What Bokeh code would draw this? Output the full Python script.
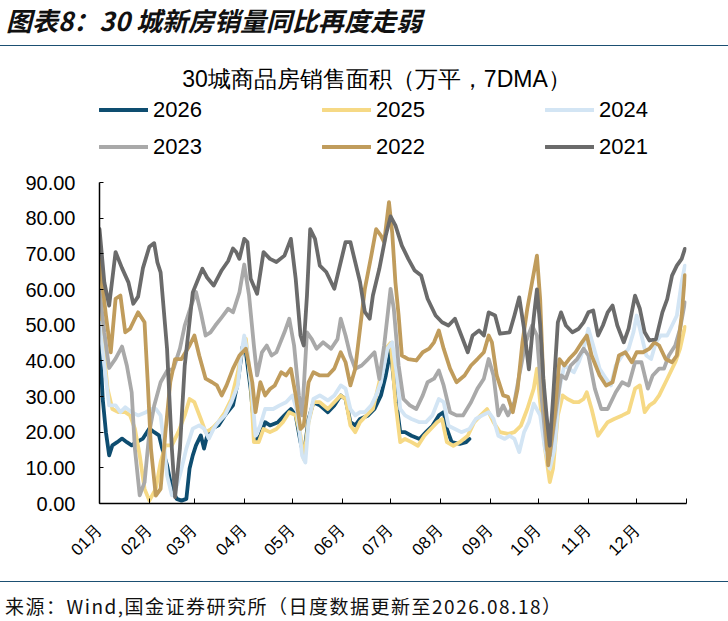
import math
from bokeh.plotting import figure
from bokeh.models import (Range1d, FixedTicker, NumeralTickFormatter, Label,
                          Legend, LegendItem, Div)
from bokeh.layouts import column
from bokeh.embed import file_html
from bokeh.resources import INLINE

# day of year (0 = 1 Jan) and 7DMA sales area (万平)
days_2021 = [0, 3, 6, 10, 14, 18, 21, 24, 27, 31,
             34, 36, 38, 42, 45, 47, 50, 53, 58, 61,
             64, 67, 71, 76, 80, 83, 85, 87, 90, 92,
             94, 98, 102, 106, 110, 115, 119, 122, 125, 127,
             129, 131, 134, 137, 141, 146, 150, 153, 156, 159,
             162, 165, 168, 170, 174, 178, 181, 184, 188, 192,
             196, 200, 204, 209, 213, 217, 221, 225, 229, 232,
             236, 239, 242, 246, 249, 255, 258, 261, 264, 267,
             270, 272, 274, 276, 278, 280, 282, 285, 287, 290,
             294, 298, 301, 304, 307, 310, 313, 316, 319, 322,
             326, 329, 333, 336, 339, 342, 346, 350, 353, 356,
             359, 362, 364]
vals_2021 = [77, 62, 55.5, 70.5, 66, 62, 56, 58, 66, 72,
             73, 67.6, 64.8, 43.4, 15.4, 1.8, 15.4, 38.7, 59.2, 62.5,
             65.8, 63.3, 61.1, 65.4, 68, 71.5, 70.5, 68.6, 74.2, 73.3,
             63, 58.8, 70.5, 68.6, 67.7, 69.5, 74.2, 63, 47.1, 44.3,
             58.3, 76.9, 74.2, 66.7, 64.9, 60.2, 67.7, 73.3, 73.3, 67.7,
             62.1, 53.7, 51.8, 58.3, 65.8, 75.1, 80.5, 78, 72.3, 68.6,
             65.3, 63.9, 57.4, 52.7, 50.8, 49.9, 51.8, 47.1, 42.4, 47.1,
             48.5, 47.1, 53.6, 52.7, 47.6, 48, 52.7, 57.8, 49, 37.6,
             52, 60, 50, 35, 24.6, 16.2, 29.3, 50.8, 53.6, 49.9,
             48, 49, 50.8, 53.6, 54.1, 47.1, 49.9, 53.6, 55.5, 49.9,
             45.2, 49, 58.3, 54.6, 48, 45.7, 46.1, 53.6, 57.3, 63.9,
             66.7, 68.6, 71.4]

days_2022 = [0, 4, 7, 10, 13, 16, 19, 22, 24, 28,
             30, 32, 35, 38, 41, 44, 47, 51, 56, 59,
             62, 66, 70, 73, 76, 79, 83, 87, 91, 95,
             97, 100, 103, 106, 109, 113, 116, 119, 122, 125,
             127, 130, 133, 137, 142, 146, 150, 153, 156, 159,
             162, 165, 169, 172, 175, 177, 180, 182, 184, 186,
             188, 192, 197, 201, 205, 208, 211, 214, 218, 222,
             227, 231, 235, 239, 242, 244, 247, 251, 254, 257,
             260, 263, 266, 269, 272, 274, 276, 279, 283, 286,
             289, 292, 296, 300, 303, 306, 311, 315, 319, 323,
             327, 331, 334, 338, 342, 345, 348, 352, 356, 359,
             362, 364]
vals_2022 = [68.6, 52.7, 42.4, 57.4, 58.3, 48, 49, 51.8, 53.6, 50.8,
             34, 15.4, 2.2, 4.1, 20, 34, 40.5, 40.5, 44.3, 47.1,
             41.5, 35, 34, 33.1, 30.3, 33.1, 37.8, 41.5, 43.4, 34,
             25.6, 34, 30.3, 32.1, 33.1, 36.8, 35.9, 37.8, 30.3, 20.9,
             21.9, 34, 36.8, 35.9, 35.9, 37.8, 42.4, 39.6, 33.1, 37.8,
             49, 60.2, 69.5, 76.9, 75.1, 73.3, 84.5, 76, 62, 52.7,
             41.5, 40.5, 40.1, 42.4, 43.4, 45.2, 48.5, 43.4, 37.8, 34,
             35.9, 38.7, 40.5, 42.4, 47.1, 45.2, 35.9, 30.3, 29.9, 25.6,
             32.2, 45.2, 54.6, 62.1, 69.5, 57.4, 34, 10.7, 24.7, 40.5,
             38.7, 40.5, 42.4, 45.2, 47.1, 41.5, 35.9, 33.1, 34, 41.5,
             42.4, 39.6, 42.4, 42.4, 43.4, 45.2, 44.3, 40.5, 39.6, 41.5,
             52.7, 64]

days_2023 = [0, 3, 6, 10, 14, 17, 20, 22, 25, 28,
             31, 34, 38, 42, 46, 50, 53, 57, 60, 63,
             66, 69, 72, 76, 80, 83, 87, 90, 93, 96,
             98, 101, 104, 107, 110, 115, 118, 121, 124, 126,
             129, 132, 135, 139, 144, 148, 150, 153, 156, 159,
             163, 167, 171, 174, 177, 181, 183, 186, 189, 193,
             197, 201, 204, 208, 211, 214, 218, 222, 226, 231,
             235, 239, 242, 245, 248, 251, 254, 258, 261, 265,
             269, 272, 275, 278, 280, 284, 287, 290, 293, 297,
             301, 304, 308, 312, 316, 321, 325, 329, 333, 337,
             341, 344, 348, 351, 354, 358, 361, 364]
vals_2023 = [60, 48, 38, 40.6, 44, 38.7, 31.2, 15.4, 2.3, 5.9,
             20, 27.4, 34, 37.2, 37.8, 43.4, 49.9, 55.5, 59.3, 53.6,
             47.1, 48, 49.9, 52.2, 54.6, 53.6, 59.2, 67, 58.3, 44.3,
             35.9, 42.4, 44.3, 41.5, 42.4, 48, 51.8, 44.3, 30.3, 24.7,
             48, 46.1, 43.4, 45.2, 43.4, 46.1, 51.8, 47.1, 41.5, 37.8,
             38.7, 40.5, 42.4, 34.9, 44.3, 60.2, 54.6, 38.7, 29.3, 27.5,
             26.5, 30.3, 34, 35, 37.3, 33.1, 25.6, 24.7, 24.7, 28.4,
             32.2, 35, 40.5, 35.9, 24.7, 27.5, 24.7, 28.4, 35.9, 45.2,
             49.9, 47.1, 29.3, 15.3, 13.4, 26.5, 35.9, 35, 38.7, 40.5,
             43.4, 41.5, 32.2, 26.5, 26.5, 31.2, 34, 33.1, 39.6, 39.6,
             32.2, 35.9, 37.8, 37.8, 41.5, 44.3, 49, 56.4]

days_2024 = [0, 3, 6, 10, 13, 16, 20, 24, 29, 32,
             35, 38, 40, 42, 45, 47, 50, 54, 58, 62,
             65, 68, 71, 74, 78, 82, 86, 88, 90, 92,
             95, 97, 100, 103, 108, 112, 116, 120, 123, 126,
             128, 130, 133, 137, 142, 146, 150, 153, 156, 159,
             162, 165, 169, 172, 175, 179, 182, 185, 187, 190,
             194, 199, 203, 207, 211, 214, 217, 221, 225, 230,
             234, 238, 242, 245, 248, 252, 255, 258, 261, 264,
             267, 270, 274, 277, 280, 283, 286, 289, 292, 295,
             298, 301, 304, 307, 311, 315, 318, 321, 325, 329,
             332, 334, 336, 340, 343, 346, 349, 353, 356, 359,
             362, 364]
vals_2024 = [50.8, 38.7, 27.5, 27.5, 25.6, 27, 25.6, 24.7, 25.6, 26.5,
             26.5, 24.7, 17.2, 7.9, 2.3, 3.3, 7.9, 15.4, 21, 21.9,
             21, 18.2, 21, 22.9, 24.7, 28.4, 33.1, 41.5, 47.1, 42.4,
             30.3, 19, 21.9, 26.5, 26.5, 27.5, 28.4, 30.3, 25.6, 13.4,
             11.5, 22.9, 29.3, 30.3, 28.9, 30.3, 33.1, 32.2, 26.5, 24.7,
             25.6, 25.6, 27.5, 30.3, 34, 43.4, 45.2, 35.9, 26.5, 24.7,
             23.7, 22.8, 22.8, 24.7, 29.3, 28.4, 21.8, 20.9, 20, 20.9,
             23.7, 24.7, 25.6, 23.7, 19, 18.1, 19, 18.1, 14.4, 20,
             22.8, 28, 24.7, 15.4, 9.8, 15.4, 32.2, 38.7, 37.8, 36.8,
             39.6, 43.4, 49, 44.3, 37.8, 35, 33.1, 38.7, 41.5, 43.4,
             48, 52.7, 49, 41.5, 40.5, 45.2, 47.1, 47.1, 49.9, 52.7,
             62.1, 66.7]

days_2025 = [0, 2, 5, 8, 12, 16, 19, 22, 25, 28,
             31, 35, 38, 41, 45, 49, 53, 56, 59, 63,
             66, 70, 74, 78, 82, 86, 88, 91, 94, 96,
             99, 102, 106, 110, 114, 118, 122, 125, 127, 130,
             133, 137, 142, 146, 150, 153, 156, 159, 162, 166,
             170, 174, 178, 181, 182, 184, 187, 190, 194, 198,
             202, 206, 210, 213, 216, 220, 224, 229, 233, 237,
             241, 245, 249, 254, 258, 262, 266, 270, 272, 274,
             277, 280, 282, 285, 288, 291, 295, 298, 301, 303,
             306, 308, 310, 313, 316, 320, 325, 329, 333, 336,
             339, 342, 345, 348, 352, 355, 358, 361, 364]
vals_2025 = [63, 46, 32.2, 26.5, 25.6, 25.6, 24.7, 21, 13.5, 4.1,
             0.8, 4.1, 11.6, 16.3, 16.3, 20, 24.7, 29.3, 28.4, 23.7,
             20, 21, 22.9, 25.6, 29.3, 36.8, 41.5, 46.2, 34, 17.2,
             17.2, 20.9, 20, 20.9, 22.8, 25.6, 24.7, 19, 12.5, 22.8,
             28.4, 28.4, 26.5, 28.4, 30.3, 29.3, 21.9, 20, 22.8, 24.7,
             26.5, 34, 43.4, 45, 40, 28.4, 17.2, 18.1, 17.2, 16.2,
             19, 20.9, 22.8, 23.7, 17.2, 16.2, 17.2, 19, 22.8, 24.7,
             26.5, 22.8, 20, 19.5, 20, 21.8, 26.5, 32.2, 37.8, 28.4,
             15.4, 6, 9.8, 24.7, 30.3, 29.3, 28.4, 28.4, 29.3, 31.2,
             26.5, 22.8, 19, 20.9, 22.8, 23.7, 24.7, 25.6, 32.2, 33.1,
             25.6, 27.5, 28.4, 30.3, 34, 36.8, 39.6, 43.4, 49.5]

days_2026 = [0, 2, 4, 6, 8, 11, 14, 17, 20, 23,
             27, 31, 34, 37, 39, 42, 45, 48, 51, 54,
             56, 58, 60, 63, 65, 67, 70, 74, 78, 83,
             86, 89, 91, 94, 97, 100, 103, 106, 111, 115,
             119, 122, 125, 127, 130, 133, 137, 142, 146, 150,
             153, 156, 159, 162, 167, 171, 175, 178, 181, 184,
             187, 190, 194, 199, 203, 207, 211, 214, 216, 219,
             224, 228, 230]
vals_2026 = [47, 29.3, 20, 13.5, 16.3, 17.2, 18.2, 17.2, 16.3, 17.2,
             18.2, 21, 20, 19.1, 15.4, 10.7, 4.1, 1.3, 0.8, 1.3,
             9.8, 13.5, 16.3, 19.1, 15.4, 19.1, 21, 21.9, 24.7, 27.5,
             34, 44, 42.4, 32.1, 17.2, 19, 22.8, 21.9, 22.8, 24.7,
             26.5, 24.7, 17.2, 13.4, 23.7, 28.4, 27.5, 25.6, 27.5, 30.3,
             29.3, 22.8, 21.9, 23.7, 24.7, 26.5, 30.3, 35.9, 43, 30.3,
             20, 20, 19, 18.1, 20, 21.8, 24.7, 25.6, 20.9, 17.2,
             16.7, 17.2, 18.1]

years = ["2026", "2025", "2024", "2023", "2022", "2021"]
series_days = [days_2026, days_2025, days_2024, days_2023, days_2022, days_2021]
series_vals = [vals_2026, vals_2025, vals_2024, vals_2023, vals_2022, vals_2021]
colors = ["#0e4d70", "#f6d985", "#d3e5f4", "#a9a9a9", "#c09c5c", "#6b6b6b"]

month_starts = [0, 31, 59, 90, 120, 151, 181, 212, 243, 273, 304, 334, 365]
month_labels = ["01月", "02月", "03月", "04月", "05月", "06月",
                "07月", "08月", "09月", "10月", "11月", "12月", ""]
y_ticks = [0, 10, 20, 30, 40, 50, 60, 70, 80, 90]

FONT = "Liberation Sans"

# frame reaches above the 90 line so the title and legend sit inside it;
# the y axis itself is bounded to 0..90
FIG_H = 535
frame_h = FIG_H - 10 - 78
y_top = 90 * frame_h / 321

p = figure(width=728, height=FIG_H, output_backend="svg", toolbar_location=None,
           x_range=Range1d(0, 365), y_range=Range1d(0, y_top),
           min_border_left=99, min_border_right=42,
           min_border_top=10, min_border_bottom=78)
p.outline_line_color = None
p.xgrid.visible = False
p.ygrid.visible = False

items = []
for yr, xs, ys, c in zip(years, series_days, series_vals, colors):
    r = p.line(xs, ys, line_color=c, line_width=3.8,
               line_join="round", line_cap="round")
    items.append(LegendItem(label=yr, renderers=[r]))

# y axis
p.yaxis.bounds = (0, 90)
p.yaxis.ticker = FixedTicker(ticks=y_ticks)
p.yaxis.formatter = NumeralTickFormatter(format="0.00")
p.yaxis.major_label_text_font = FONT
p.yaxis.major_label_text_font_size = "20px"
p.yaxis.major_label_text_color = "black"
p.yaxis.major_label_standoff = 24
p.yaxis.major_tick_in = 4
p.yaxis.major_tick_out = 0
p.yaxis.minor_tick_line_color = None
p.yaxis.axis_line_color = "black"
p.yaxis.axis_line_width = 1.5
p.yaxis.major_tick_line_color = "black"

# x axis
p.xaxis.ticker = FixedTicker(ticks=month_starts)
p.xaxis.major_label_overrides = dict(zip(month_starts, month_labels))
p.xaxis.major_label_orientation = math.pi / 4
p.xaxis.major_label_text_font = FONT
p.xaxis.major_label_text_font_size = "17px"
p.xaxis.major_label_text_color = "black"
p.xaxis.major_label_standoff = 24
p.xaxis.major_tick_in = 5
p.xaxis.major_tick_out = 0
p.xaxis.minor_tick_line_color = None
p.xaxis.axis_line_color = "black"
p.xaxis.axis_line_width = 1.5
p.xaxis.major_tick_line_color = "black"

# chart title (screen units, from the frame's bottom-left corner)
p.add_layout(Label(x=277, y=425, x_units="screen", y_units="screen",
                   text="30城商品房销售面积（万平，7DMA）",
                   text_font=FONT, text_font_size="23px", text_color="black",
                   text_align="center", text_baseline="middle"))

legend = Legend(items=items, location=(0, 338), orientation="horizontal",
                ncols=3, glyph_width=49, glyph_height=37, label_standoff=5,
                label_width=169, label_height=37, spacing=0, padding=0,
                margin=0, border_line_color=None, background_fill_alpha=0,
                label_text_font=FONT, label_text_font_size="22px",
                label_text_color="black")
p.add_layout(legend)

title_div = Div(width=728, height=46, margin=(0, 0, 0, 0), text=(
    '<div style="box-sizing:border-box;height:45.5px;padding:7px 0 0 6px;'
    'font-family:\'Noto Sans CJK SC\';font-size:26px;font-weight:bold;'
    'font-style:italic;line-height:26px;border-bottom:1.5px solid #1b4f72;'
    'width:728px;color:#111;white-space:nowrap">'
    '图表8：30 城新房销量同比再度走弱</div>'))

footer_div = Div(width=728, height=40, margin=(0, 0, 0, 0), text=(
    '<div style="box-sizing:border-box;border-top:1.5px solid #1b4f72;'
    'padding:14px 0 0 5px;width:728px;height:40px;'
    'font-family:\'Noto Sans CJK SC\';font-size:19px;line-height:20px;'
    'letter-spacing:1.5px;color:#111;white-space:nowrap">'
    '来源：Wind,国金证券研究所（日度数据更新至2026.08.18）</div>'))

layout = column(title_div, p, footer_div)
open("out.html", "w").write(file_html(layout, INLINE))
